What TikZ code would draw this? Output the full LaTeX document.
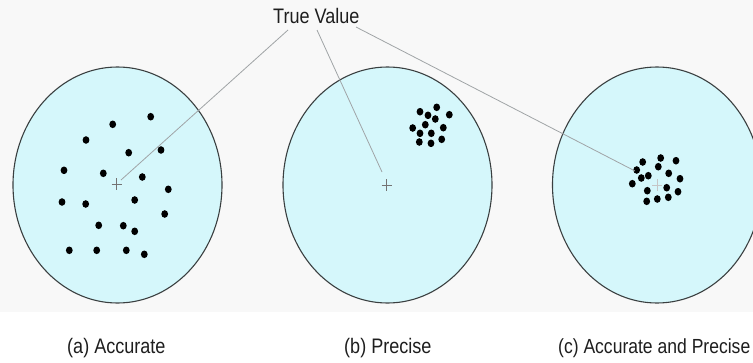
\documentclass[tikz,border=0pt]{standalone}
\usepackage{fontspec}
\setmainfont{Liberation Sans}[FakeStretch=0.86]
\usetikzlibrary{shapes.geometric}
\definecolor{target}{HTML}{D5F7FB}
\definecolor{rim}{HTML}{3A3F40}
\definecolor{leader}{HTML}{A0A4A6}
\definecolor{ink}{HTML}{1E1E1E}
\definecolor{bg}{HTML}{F8F8F8}
\tikzset{
  board/.style={ellipse, draw=rim, line width=1.1pt, fill=target, minimum width=209pt, minimum height=236pt, inner sep=0pt},
  hit/.style={fill=black, draw=none},
  aim/.style={draw=#1, line width=0.7pt},
  leaderline/.style={draw=leader, line width=0.8pt},
  caption/.style={anchor=base west, inner sep=0pt, text=ink, font=\fontsize{21}{24}\selectfont}
}
\newcommand{\hitdot}[2]{\fill[hit] (#1,#2) ellipse [x radius=3.4pt, y radius=3.8pt];}
\newcommand{\aimcross}[3]{\draw[aim=#3] (#1-5,#2) -- (#1+5,#2) (#1,#2-6) -- (#1,#2+6);}
\begin{document}
\begin{tikzpicture}[x=1pt,y=-1pt]
\useasboundingbox (0,0) rectangle (753,362);
\clip (0,0) rectangle (753,362);
\fill[bg] (0,0) rectangle (753,312);
\fill[white] (0,312) rectangle (753,362);
% boards
\node[board] (A) at (117.5,185) {};
\node[board] (B) at (387.5,185) {};
\node[board] (C) at (657,185) {};
% crosses
\aimcross{116.7}{184}{gray!90!black}
\aimcross{386.7}{185}{gray!90!black}
\aimcross{657}{185}{gray!45}
% dots A
\foreach \x/\y in {150.7/116.7,112.7/124.3,86/140,128.7/152.7,161/150,64/170.3,103.3/173.3,142.3/177,168.3/189.3,62/202,85.7/204,134.7/200,164.7/214,98.7/225.3,123.3/225.7,134.7/231.3,69.3/250.3,96.7/250.3,126.3/250.3,144.3/254.3}
  {\hitdot{\x}{\y}}
% dots B
\foreach \x/\y in {420/111.7,436.7/107.3,449.3/114.7,428/115.3,435.3/119,425.3/124.7,412.7/128,443.3/127.7,420/133.3,431.3/133.3,419.3/142,431/143.3,441.7/139.3}
  {\hitdot{\x}{\y}}
% dots C
\foreach \x/\y in {642.7/162,660.7/158,676/160.7,658.3/166.7,636.7/170,668.7/173.3,641.3/178,648.3/175.7,680/178.7,632.3/183.7,647.3/190.7,666.7/187.7,678/191.7,646.7/201.3,657.3/199,668.3/197.3}
  {\hitdot{\x}{\y}}
% title and leaders
\node[caption] (tv) at (273,23) {True Value};
\coordinate (s1) at (288,30);
\coordinate (s2) at (317,30);
\coordinate (s3) at (356,27);
\coordinate (e1) at (121,180);
\coordinate (e2) at (382,172);
\coordinate (e3) at (635,171);
\draw[leaderline] (s1) -- (e1);
\draw[leaderline] (s2) -- (e2);
\draw[leaderline] (s3) -- (e3);
% captions
\node[caption] (la) at (67,353) {(a) Accurate};
\node[caption] (lb) at (344,353) {(b) Precise};
\node[caption, font=\fontsize{20.4}{24}\selectfont] (lc) at (558,353) {(c) Accurate and Precise};
\end{tikzpicture}
\end{document}
